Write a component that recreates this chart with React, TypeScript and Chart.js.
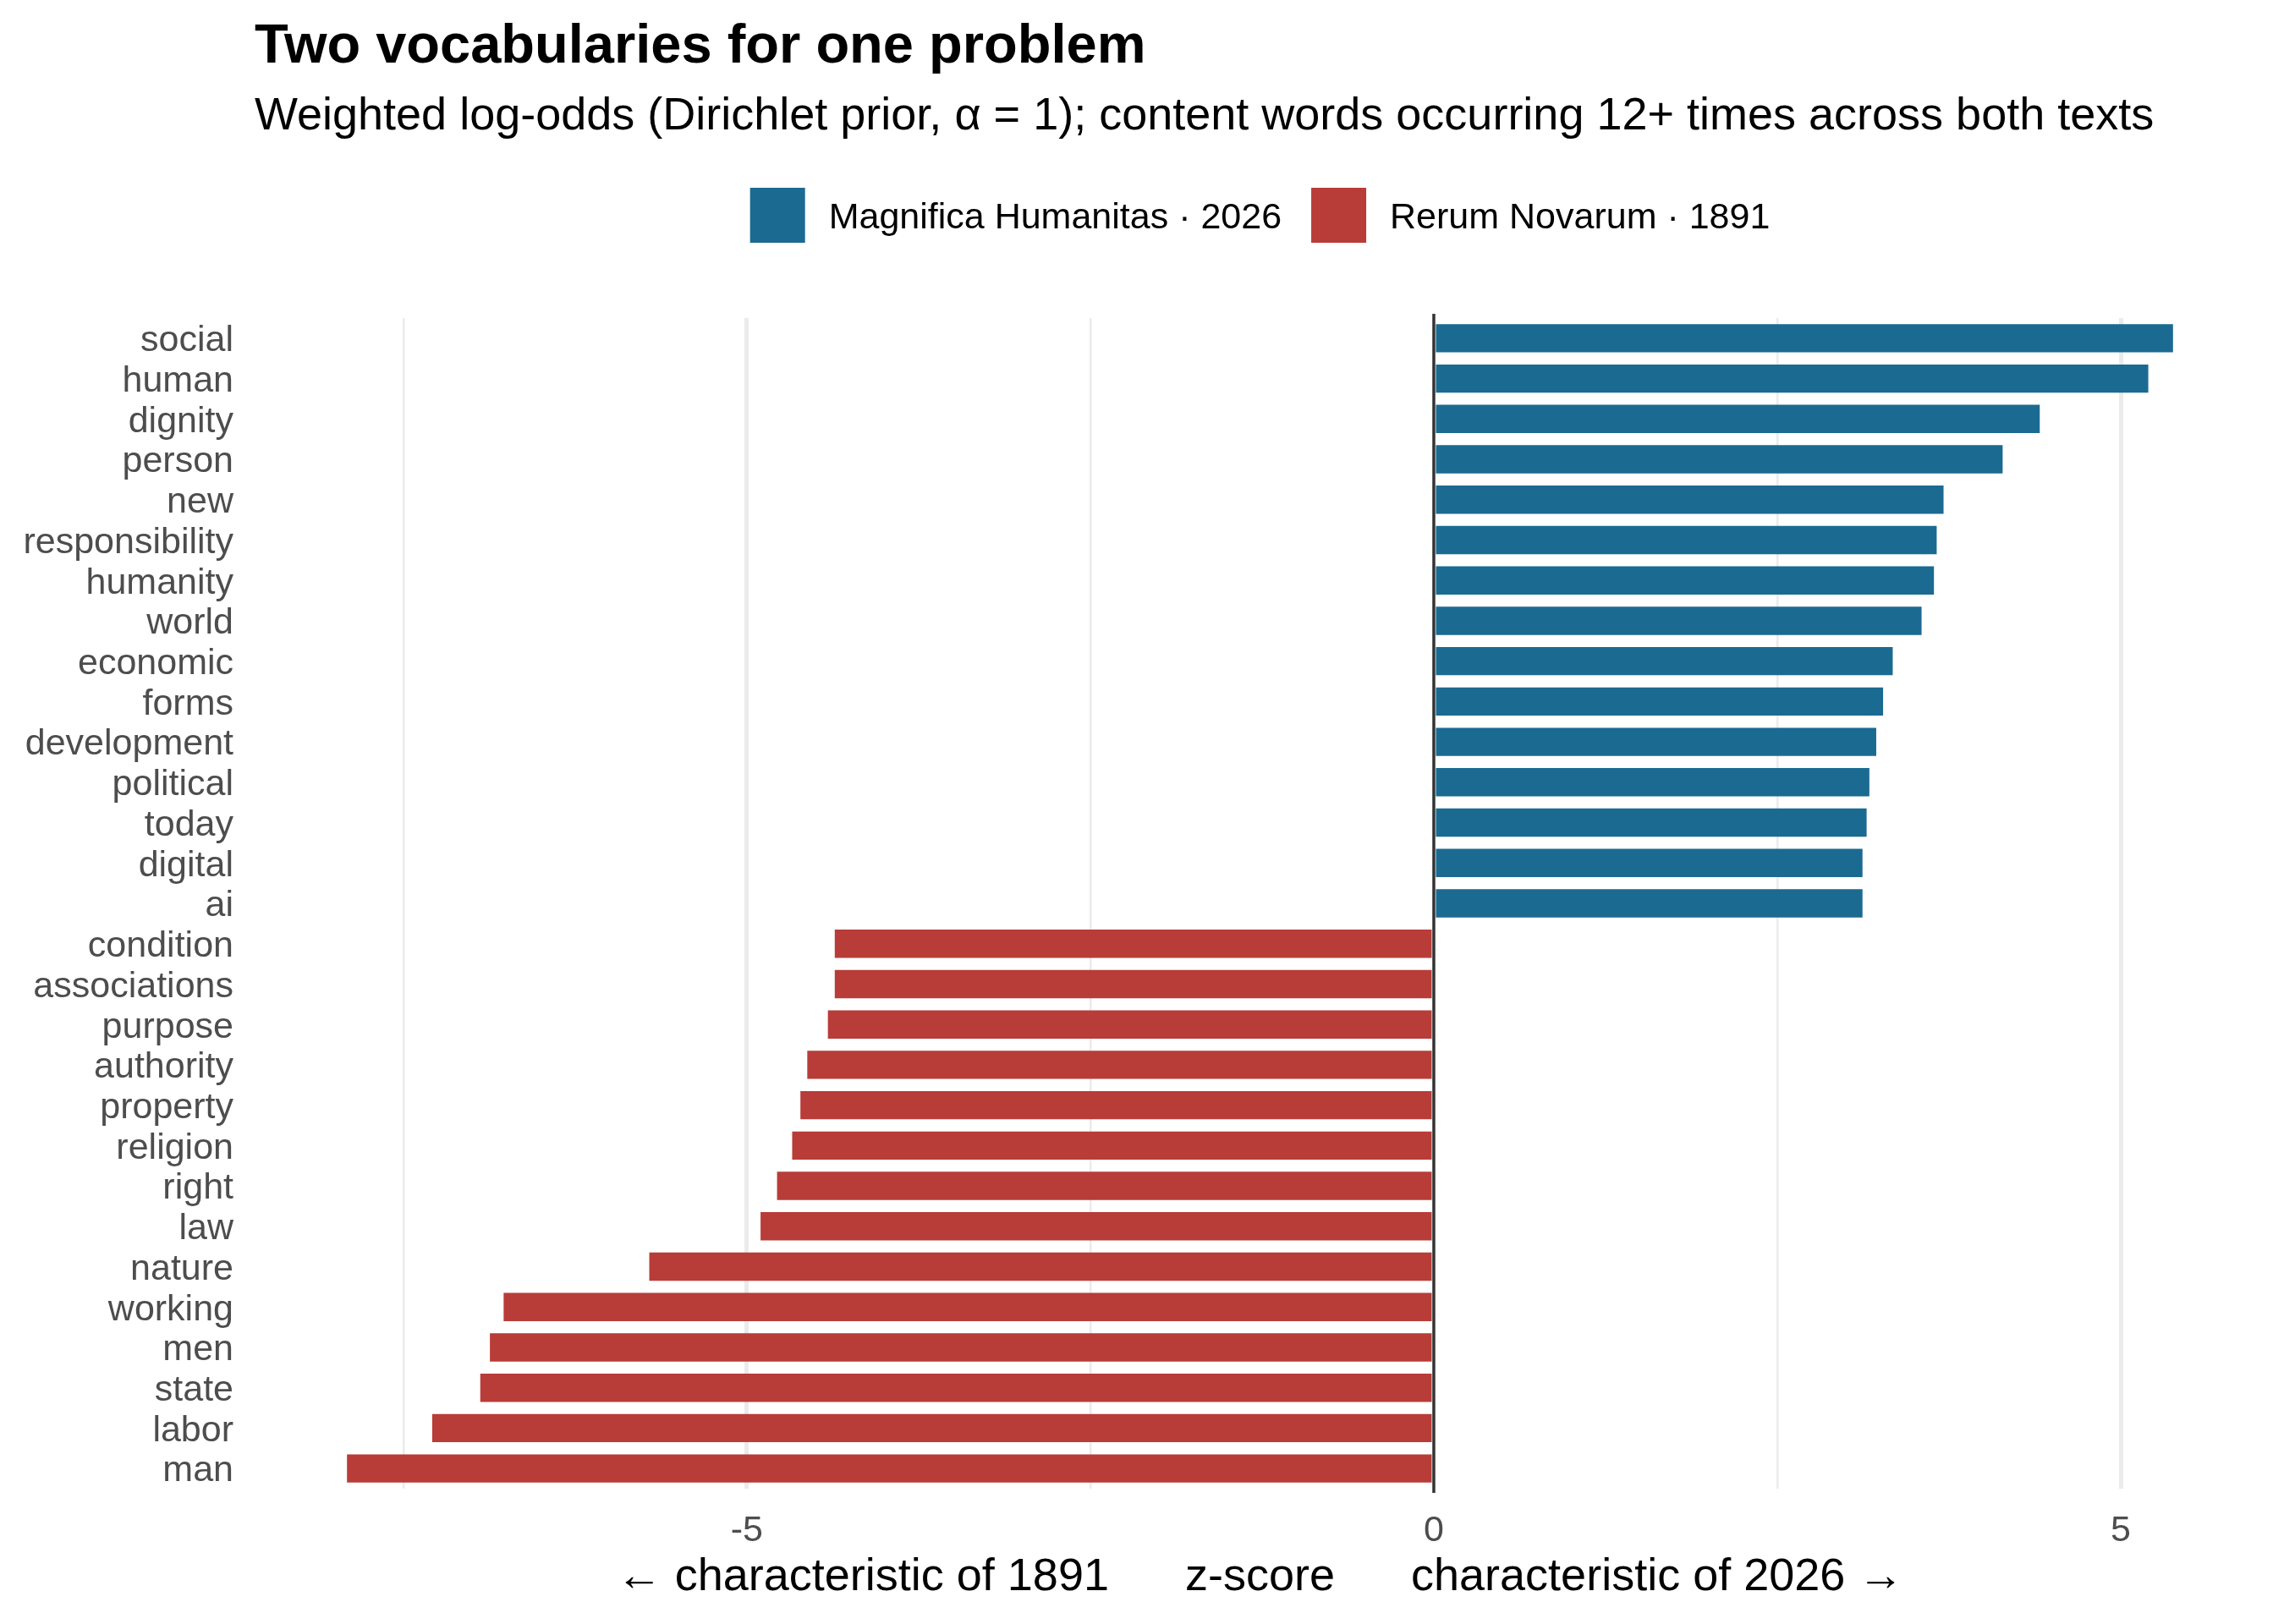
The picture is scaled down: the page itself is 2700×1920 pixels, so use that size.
import { useEffect, useRef } from 'react';
import { Chart, registerables } from 'chart.js';

Chart.register(...registerables);

// words most characteristic of each text, top to bottom as in the plot
const words2026 = ['social', 'human', 'dignity', 'person', 'new', 'responsibility', 'humanity', 'world', 'economic', 'forms', 'development', 'political', 'today', 'digital', 'ai'];
const scores2026 = [5.38, 5.2, 4.41, 4.14, 3.71, 3.66, 3.64, 3.55, 3.34, 3.27, 3.22, 3.17, 3.15, 3.12, 3.12];

const words1891 = ['condition', 'associations', 'purpose', 'authority', 'property', 'religion', 'right', 'law', 'nature', 'working', 'men', 'state', 'labor', 'man'];
const scores1891 = [-4.36, -4.36, -4.41, -4.56, -4.61, -4.67, -4.78, -4.9, -5.71, -6.77, -6.87, -6.94, -7.29, -7.91];

const seriesNames = ['Magnifica Humanitas · 2026', 'Rerum Novarum · 1891'];
const seriesColors = ['#1b6a91', '#b83c38'];
const labeledTicks = [-5, 0, 5];

const TITLE = 'Two vocabularies for one problem';
const SUBTITLE = 'Weighted log-odds (Dirichlet prior, α = 1); content words occurring 12+ times across both texts';
const X_TITLE = '← characteristic of 1891      z-score      characteristic of 2026 →';

const FONT = '"Liberation Sans", Arial, Helvetica, sans-serif';

// title, subtitle and legend, laid out against the panel like ggplot does
const headerPlugin = {
  id: 'header',
  afterDraw(chart: any) {
    const { ctx, chartArea } = chart;
    ctx.save();
    ctx.fillStyle = '#000000';
    ctx.textAlign = 'left';
    ctx.textBaseline = 'alphabetic';
    ctx.font = `bold 65px ${FONT}`;
    ctx.fillText(TITLE, chartArea.left - 2, 74);
    ctx.font = `54px ${FONT}`;
    ctx.fillText(SUBTITLE, chartArea.left - 2, 153);

    ctx.font = `43px ${FONT}`;
    const box = 65;
    const textGap = 28;
    const itemGap = 35;
    const items = chart.data.datasets.map((ds: any) => ({
      label: ds.label,
      color: ds.backgroundColor,
      w: ctx.measureText(ds.label).width,
    }));
    let total = 0;
    items.forEach((it: any, i: number) => {
      total += box + textGap + it.w + (i > 0 ? itemGap : 0);
    });
    let x = (chartArea.left + chartArea.right) / 2 - total / 2;
    items.forEach((it: any) => {
      ctx.fillStyle = it.color;
      ctx.fillRect(x, 222, box, box);
      ctx.fillStyle = '#000000';
      ctx.fillText(it.label, x + box + textGap, 270);
      x += box + textGap + it.w + itemGap;
    });
    ctx.restore();
  },
};

// dark reference line at zero, on top of the bars
const zeroLinePlugin = {
  id: 'zeroLine',
  afterDatasetsDraw(chart: any) {
    const { ctx, chartArea, scales } = chart;
    const x0 = scales.x.getPixelForValue(0);
    ctx.save();
    ctx.strokeStyle = '#333333';
    ctx.lineWidth = 3.5;
    ctx.beginPath();
    ctx.moveTo(x0, chartArea.top - 5);
    ctx.lineTo(x0, chartArea.bottom + 5);
    ctx.stroke();
    ctx.restore();
  },
};

const App = () => {
  const canvasRef = useRef<HTMLCanvasElement | null>(null);

  useEffect(() => {
    const ctx = canvasRef.current?.getContext('2d');
    if (!ctx) return;

    const chart = new Chart(ctx, {
      type: 'bar',
      data: {
        labels: [...words2026, ...words1891],
        datasets: [
          {
            label: seriesNames[0],
            data: scores2026.map((v, i) => ({ x: v, y: words2026[i] })),
            backgroundColor: seriesColors[0],
          },
          {
            label: seriesNames[1],
            data: scores1891.map((v, i) => ({ x: v, y: words1891[i] })),
            backgroundColor: seriesColors[1],
          },
        ],
      },
      options: {
        indexAxis: 'y',
        animation: false,
        responsive: true,
        maintainAspectRatio: false,
        devicePixelRatio: 1,
        grouped: false,
        barPercentage: 0.7,
        categoryPercentage: 1,
        layout: { padding: { top: 376, right: 24, left: 0, bottom: 0 } },
        plugins: {
          legend: { display: false },
          title: { display: false },
          tooltip: { enabled: false },
        },
        scales: {
          x: {
            type: 'linear',
            min: -8.57,
            max: 6.04,
            border: { display: false },
            grid: {
              drawTicks: false,
              color: (c: any) => (c.tick && c.tick.value === 0 ? 'rgba(0,0,0,0)' : '#ebebeb'),
              lineWidth: (c: any) => (c.tick && labeledTicks.includes(c.tick.value) ? 5 : 2.5),
            },
            ticks: {
              stepSize: 2.5,
              includeBounds: false,
              autoSkip: false,
              maxRotation: 0,
              padding: 24,
              color: '#4d4d4d',
              font: { family: FONT, size: 43 },
              callback: (v: any) => (labeledTicks.includes(Number(v)) ? String(v) : ''),
            },
            title: {
              display: true,
              text: X_TITLE,
              color: '#000000',
              font: { family: FONT, size: 54 },
              padding: { top: 0, bottom: 22 },
            },
            afterFit: (scale: any) => {
              scale.height = 160;
            },
          },
          y: {
            type: 'category',
            border: { display: false },
            grid: { display: false, drawTicks: false },
            ticks: {
              autoSkip: false,
              padding: 27,
              labelOffset: 3.5,
              color: '#4d4d4d',
              font: { family: FONT, size: 43 },
            },
            afterFit: (scale: any) => {
              scale.width = 303;
            },
          },
        },
      } as any,
      plugins: [headerPlugin, zeroLinePlugin],
    });

    return () => {
      chart.destroy();
    };
  }, []);

  return (
    <div style={{ position: 'absolute', left: 0, top: 0, width: 2700, height: 1920, background: '#ffffff' }}>
      <canvas ref={canvasRef} />
    </div>
  );
};

export default App;
